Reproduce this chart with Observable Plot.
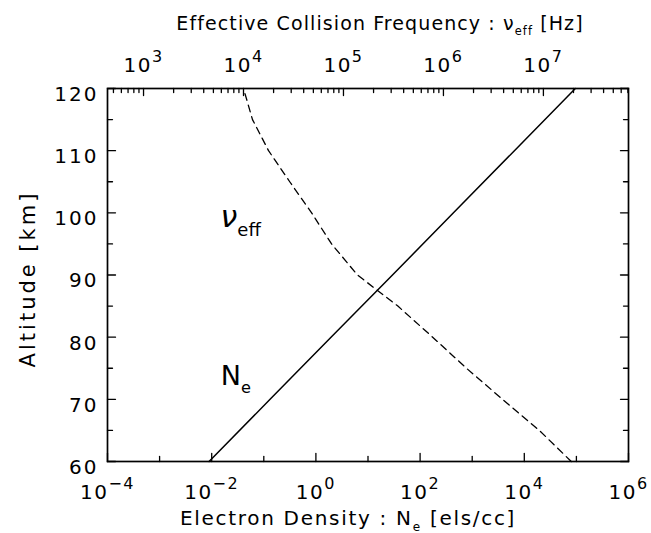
<!DOCTYPE html>
<html>
<head>
<meta charset="utf-8">
<script src="https://cdn.jsdelivr.net/npm/d3@7"></script>
<script src="https://cdn.jsdelivr.net/npm/@observablehq/plot@0.6"></script>
<style>
  body { margin: 0; background: #fff; }
  #chart { position: relative; width: 651px; height: 533px; }
  #chart svg { position: absolute; left: 0; top: 0; }
</style>
</head>
<body>
<div id="chart"></div>
<script>
// Electron density profile (bottom axis, els/cc)
const altitudeKm = [60, 70, 80, 90, 100, 110, 120];
const electronDensity = [8.9e-3, 0.132, 1.95, 29.5, 437, 6.46e3, 9.55e4];

// Effective collision frequency profile (top axis, Hz)
const nuAltitudeKm = [60, 65, 70, 75, 80, 85, 90, 95, 100, 105, 110, 115, 120];
const collisionFrequency = [1.9e7, 9.1e6, 3.9e6, 1.7e6, 7.8e5, 3.5e5, 1.38e5, 7.6e4, 4.8e4, 2.9e4, 1.78e4, 1.23e4, 1.0e4];

// Axis extents and tick values
const altitudeDomain = [60, 120];
const densityDomain = [1e-4, 1e6];
const frequencyDomain = [436, 7.1e7];
const densityLabelTicks = [1e-4, 1e-2, 1, 1e2, 1e4, 1e6];
const densityMinorTicks = [1e-3, 1e-1, 1e1, 1e3, 1e5];
const frequencyLabelTicks = [1e3, 1e4, 1e5, 1e6, 1e7];
const altitudeLabelTicks = [60, 70, 80, 90, 100, 110, 120];
const altitudeMinorTicks = [65, 75, 85, 95, 105, 115];

// Titles and curve labels
const bottomTitle = "Electron Density : N_{e} [els/cc]";
const topTitle = "Effective Collision Frequency : \u03bd_{eff} [Hz]";
const leftTitle = "Altitude [km]";
const densityLabel = "N_{e}";
const frequencyLabel = "\u03bd_{eff}";

const densityRows = altitudeKm.map((alt, i) => ({alt, ne: electronDensity[i]}));
const frequencyRows = nuAltitudeKm.map((alt, i) => ({alt, nu: collisionFrequency[i]}));

// log minor ticks (2..9 per decade) inside the frequency domain
const frequencyMinorTicks = [];
for (let e = 2; e <= 7; e++) {
  for (let k = 2; k <= 9; k++) {
    const v = k * 10 ** e;
    if (v > frequencyDomain[0] && v < frequencyDomain[1]) frequencyMinorTicks.push(v);
  }
}

const W = 651, H = 533;
const layout = {width: W, height: H, marginTop: 88, marginRight: 23, marginBottom: 72, marginLeft: 107};
const style = {
  fontFamily: "'DejaVu Sans', sans-serif",
  fontSize: "20px",
  letterSpacing: "1.5px",
  background: "transparent",
  color: "black",
  overflow: "visible"
};

const pow10 = d => `10^{${Math.round(Math.log10(d)).toString().replace("-", "\u2212")}}`;

// inward tick: a straight segment drawn from the anchor point
const tickShape = {draw(context, l) { context.moveTo(0, 0); context.lineTo(0, -l); }};
const ticks = (values, channel, frameAnchor, rotate, length) =>
  Plot.vector(values, {
    [channel]: d => d, frameAnchor, rotate, length, anchor: "start",
    shape: tickShape, stroke: "black", strokeWidth: 1.3
  });

const densityPlot = Plot.plot({
  ...layout,
  style,
  x: {type: "log", domain: densityDomain},
  y: {domain: altitudeDomain},
  marks: [
    Plot.frame({stroke: "black", strokeWidth: 1.7}),
    Plot.axisX({anchor: "bottom", ticks: densityLabelTicks, tickFormat: pow10, tickSize: 0, tickPadding: 23, label: null}),
    Plot.axisY({anchor: "left", ticks: altitudeLabelTicks, tickFormat: d => d, tickSize: 0, tickPadding: 9, dy: 6, label: null}),
    ticks(densityLabelTicks, "x", "bottom", 0, 8),
    ticks(densityMinorTicks, "x", "bottom", 0, 5),
    ticks(altitudeLabelTicks, "y", "left", 90, 8),
    ticks(altitudeMinorTicks, "y", "left", 90, 5),
    ticks(altitudeLabelTicks, "y", "right", -90, 8),
    ticks(altitudeMinorTicks, "y", "right", -90, 5),
    Plot.line(densityRows, {x: "ne", y: "alt", stroke: "black", strokeWidth: 1.5}),
    Plot.text([densityLabel], {x: 0.015, y: 72.3, text: d => d, textAnchor: "start", lineAnchor: "bottom", fontSize: 27}),
    Plot.text([bottomTitle], {frameAnchor: "bottom", dx: -20, dy: 63, text: d => d, textAnchor: "middle", lineAnchor: "bottom"}),
    Plot.text([leftTitle], {frameAnchor: "left", rotate: -90, dx: -79, dy: 4, text: d => d, textAnchor: "middle", lineAnchor: "middle", fontSize: 21})
  ]
});

const frequencyPlot = Plot.plot({
  ...layout,
  style,
  x: {type: "log", domain: frequencyDomain},
  y: {domain: altitudeDomain, axis: null},
  marks: [
    Plot.axisX({anchor: "top", ticks: frequencyLabelTicks, tickFormat: pow10, tickSize: 0, tickPadding: 17, label: null}),
    ticks(frequencyLabelTicks, "x", "top", 180, 7),
    ticks(frequencyMinorTicks, "x", "top", 180, 4),
    Plot.line(frequencyRows, {x: "nu", y: "alt", stroke: "black", strokeWidth: 1.3, strokeDasharray: "7,5"}),
    Plot.text([frequencyLabel], {x: 5900, y: 97.8, text: d => d, textAnchor: "start", lineAnchor: "bottom", fontSize: 30, fontStyle: "italic"}),
    Plot.text([topTitle], {frameAnchor: "top", dx: 12, dy: -59, text: d => d, textAnchor: "middle", lineAnchor: "bottom", fontSize: 19})
  ]
});

// per-text letter spacing
const spacing = new Map([
  [leftTitle, "3px"],
  [topTitle, "1.1px"],
  [bottomTitle, "1.7px"],
  [densityLabel, "0px"],
  [frequencyLabel, "0px"]
]);

// turn ^{..} and _{..} markup into raised / lowered tspans
function richText(svg) {
  const ns = "http://www.w3.org/2000/svg";
  svg.querySelectorAll("text").forEach(t => {
    const s = t.textContent;
    if (spacing.has(s)) t.style.letterSpacing = spacing.get(s);
    if (/^\d+$/.test(s)) t.style.letterSpacing = "2px";
    if (!/[\^_]\{/.test(s)) return;
    const base = parseFloat(getComputedStyle(t).fontSize) || 20;
    while (t.firstChild) t.removeChild(t.firstChild);
    const re = /([\^_])\{([^}]*)\}|([^\^_]+)/g;
    let m, offset = 0;
    while ((m = re.exec(s))) {
      const ts = document.createElementNS(ns, "tspan");
      let target = 0;
      if (m[1] === "^") {
        target = -0.5 * base;
        ts.setAttribute("font-size", 0.8 * base);
        ts.textContent = m[2];
      } else if (m[1] === "_") {
        target = 0.3 * base;
        ts.setAttribute("font-size", 0.6 * base);
        ts.setAttribute("font-style", "normal");
        ts.textContent = m[2];
      } else {
        ts.textContent = m[3];
      }
      if (target !== offset) ts.setAttribute("dy", target - offset);
      offset = target;
      t.appendChild(ts);
    }
  });
}

const chart = document.getElementById("chart");
chart.append(densityPlot, frequencyPlot);
richText(densityPlot);
richText(frequencyPlot);
</script>
</body>
</html>
